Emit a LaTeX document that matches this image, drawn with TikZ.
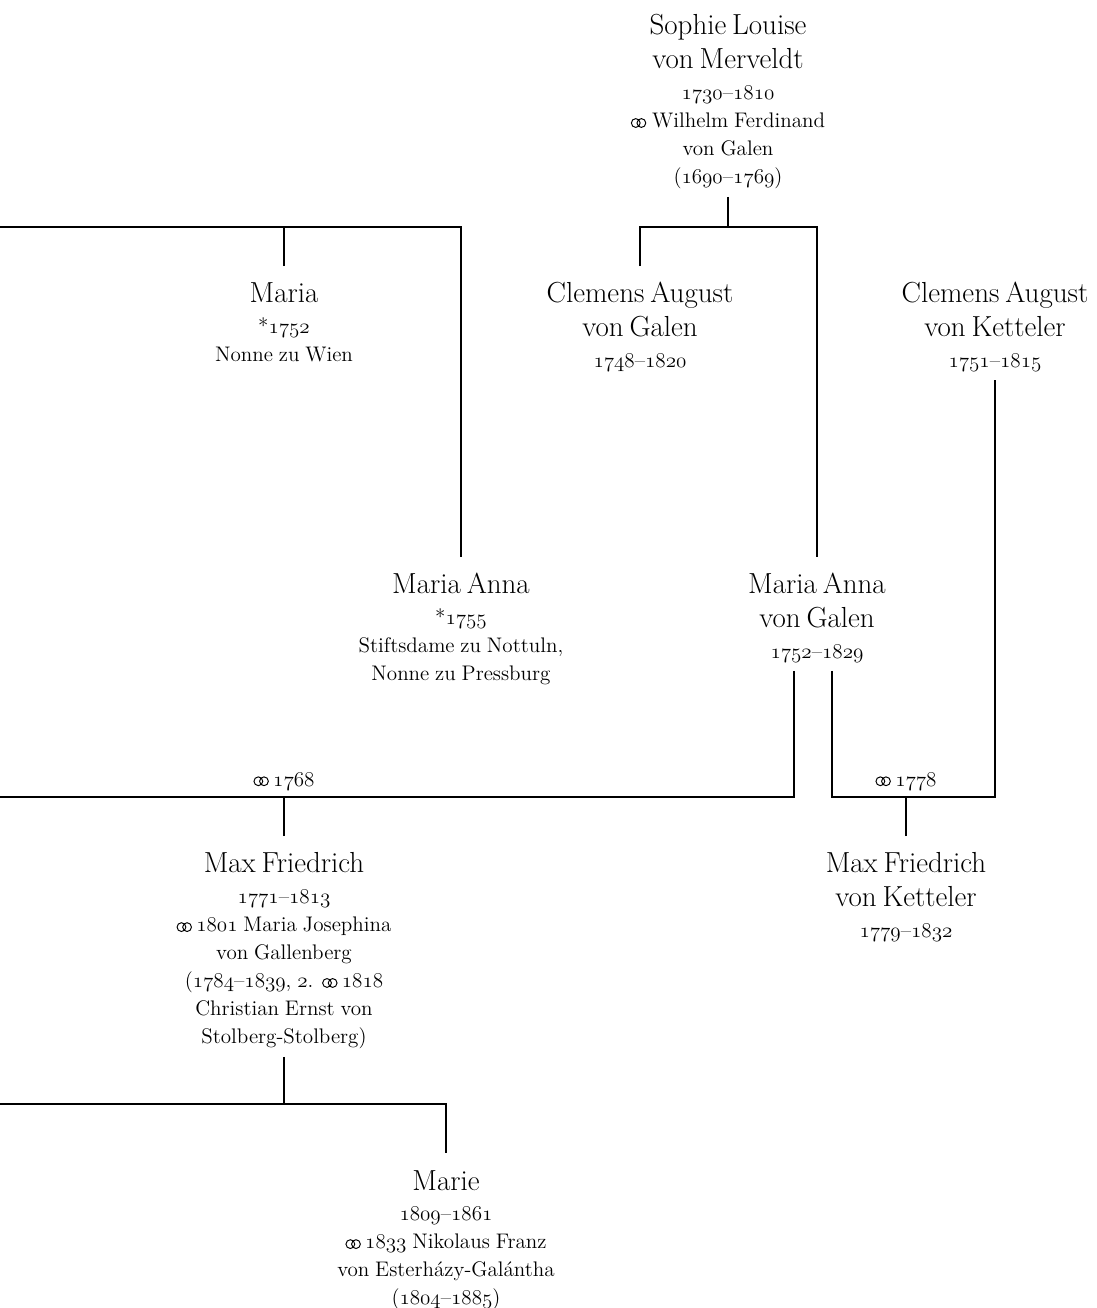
\documentclass[tikz,border=0pt]{standalone}
\usepackage{fontspec}
\usetikzlibrary{positioning}
\newcommand{\marr}{\tikz[x=1pt,y=1pt,line width=0.55pt,baseline=0pt]{\draw (2.7,2.7) circle[radius=2.5] (5.9,2.7) circle[radius=2.5];}}
\newcommand{\osn}[1]{{\usefont{OML}{cmm}{m}{it}#1}}
\newcommand{\yrs}[2]{\osn{#1}--\osn{#2}}
\newcommand{\nmfont}{\fontsize{16.5}{19.3}\selectfont}
\newcommand{\smfont}{\fontsize{12}{15.9}\selectfont}
\newcommand{\pers}[2]{{\nmfont\rule{0pt}{16.5pt}#1\par}\vskip1.7pt{\smfont #2\par}}

\begin{document}
\begin{tikzpicture}[x=0.02cm, y=-0.02cm, line width=0.75pt,
  person/.style={anchor=north, text width=6cm, align=center, inner sep=0pt, outer sep=0.16cm},
  wed/.style={anchor=base, inner sep=0pt, font=\smfont}]
\useasboundingbox (0,0) rectangle (1097,1308);

% persons
\node[person] (sophie) at (728,-2) {\pers{Sophie Louise\\von Merveldt}{\yrs{1730}{1810}\\\marr{} Wilhelm Ferdinand\\von Galen\\(\yrs{1690}{1769})}};
\node[person] (maria) at (284,266) {\pers{Maria}{*\osn{1752}\\Nonne zu Wien}};
\node[person] (clemg) at (640,266) {\pers{Clemens August\\von Galen}{\yrs{1748}{1820}}};
\node[person] (clemk) at (995,266) {\pers{Clemens August\\von Ketteler}{\yrs{1751}{1815}}};
\node[person] (mariaannal) at (461,557) {\pers{Maria Anna}{*\osn{1755}\\Stiftsdame zu Nottuln,\\Nonne zu Pressburg}};
\node[person] (mariaannag) at (817,557) {\pers{Maria Anna\\von Galen}{\yrs{1752}{1829}}};
\node[person] (maxf) at (284,836) {\pers{Max Friedrich}{\yrs{1771}{1813}\\\marr\hspace{2.5pt}\osn{1801} Maria Josephina\\von Gallenberg\\(\yrs{1784}{1839}, \osn{2}. \marr\hspace{2.5pt}\osn{1818}\\Christian Ernst von\\Stolberg-Stolberg)}};
\node[person] (maxk) at (906,836) {\pers{Max Friedrich\\von Ketteler}{\yrs{1779}{1832}}};
\node[person] (marie) at (446,1153) {\pers{Marie}{\yrs{1809}{1861}\\\marr\hspace{2.5pt}\osn{1833} Nikolaus Franz\\von Esterházy-Galántha\\(\yrs{1804}{1885})}};

% bars
\coordinate (galen) at (728,227);
\coordinate (leftup) at (0,227);
\coordinate (left1768) at (0,797);
\coordinate (knot1778) at (906,797);
\coordinate (left1809) at (0,1104);

\draw (sophie.south) -- (sophie.south |- galen);
\draw (clemg.north) |- (galen) -| (mariaannag.north);
\draw (leftup) -| (mariaannal.north);
\draw (maria.north) -- (maria.north |- leftup);

\draw ([xshift=-0.46cm]mariaannag.south) |- (left1768);
\draw ([xshift=0.3cm]mariaannag.south) |- (knot1778) -| (clemk.south);
\draw (maxf.north) -- (maxf.north |- left1768);
\draw (maxk.north) -- (knot1778);
\node[wed] (w1768) at (284,786) {\marr\hspace{2.5pt}\osn{1768}};
\node[wed] (w1778) at (906,786) {\marr\hspace{2.5pt}\osn{1778}};

\draw (maxf.south) -- (maxf.south |- left1809);
\draw (left1809) -| (marie.north);
\end{tikzpicture}
\end{document}
